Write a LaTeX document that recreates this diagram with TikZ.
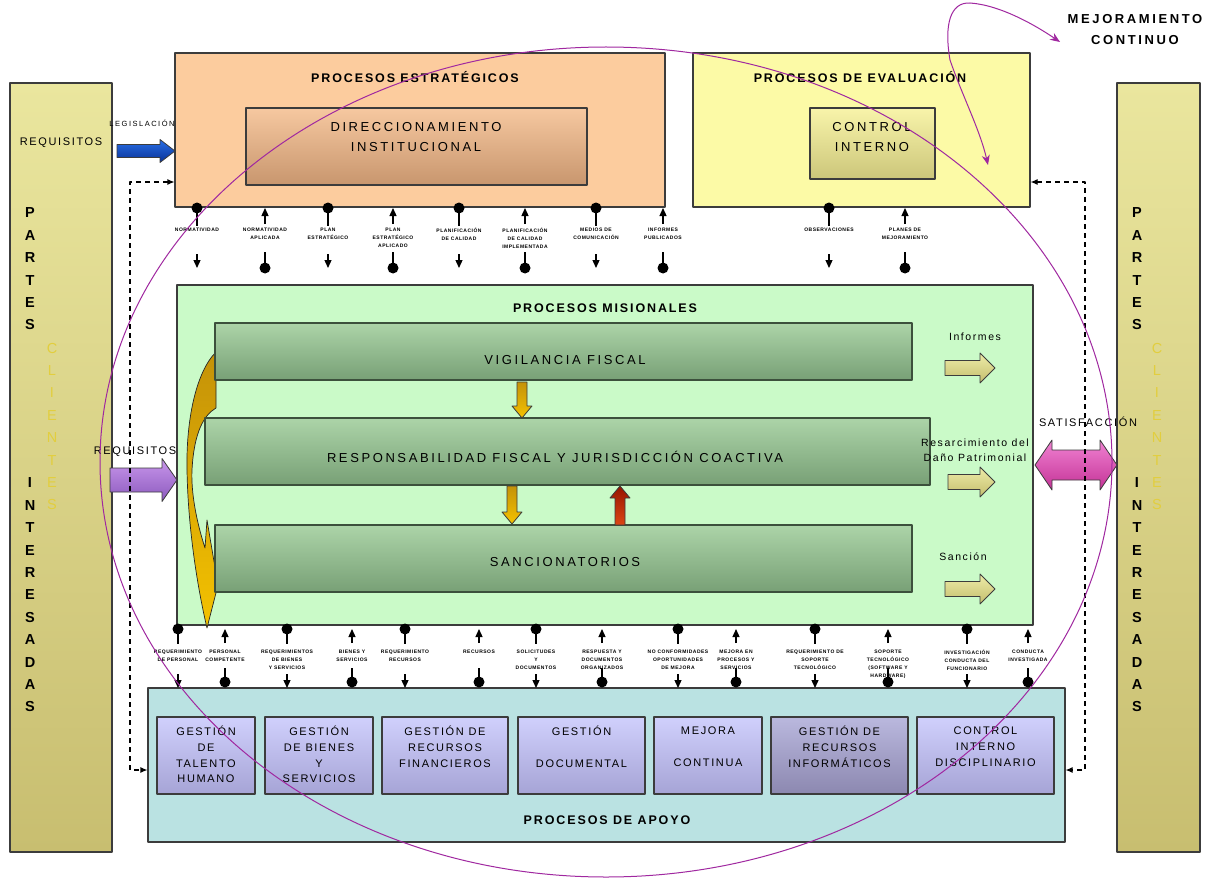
\documentclass[tikz,border=0pt]{standalone}
\usepackage{fontspec}
\setmainfont{Liberation Sans}
\newfontfamily\lsA[LetterSpace=15]{Liberation Sans}
\newfontfamily\lsT[LetterSpace=20]{Liberation Sans}
\newfontfamily\lsS[LetterSpace=10]{Liberation Sans}
\usetikzlibrary{arrows.meta,calc}
\definecolor{bord}{RGB}{60,60,60}
\definecolor{estrc}{RGB}{252,204,158}
\definecolor{evalc}{RGB}{252,250,166}
\definecolor{misc}{RGB}{202,250,200}
\definecolor{apoc}{RGB}{186,226,226}
\definecolor{sidetop}{RGB}{234,230,158}
\definecolor{sidebot}{RGB}{200,190,112}
\definecolor{dirtop}{RGB}{246,200,160}
\definecolor{dirbot}{RGB}{200,150,110}
\definecolor{cintop}{RGB}{248,244,170}
\definecolor{cinbot}{RGB}{204,198,122}
\definecolor{bartop}{RGB}{172,212,168}
\definecolor{barbot}{RGB}{120,160,118}
\definecolor{barbord}{RGB}{60,80,60}
\definecolor{subtop}{RGB}{208,208,252}
\definecolor{subbot}{RGB}{166,164,214}
\definecolor{subsixtop}{RGB}{186,184,222}
\definecolor{subsixbot}{RGB}{140,136,176}
\definecolor{ellc}{RGB}{160,40,160}
\definecolor{cli}{RGB}{226,206,62}
\definecolor{goldtop}{RGB}{196,146,8}
\definecolor{goldbot}{RGB}{244,194,0}
\definecolor{redtop}{RGB}{150,20,0}
\definecolor{redbot}{RGB}{220,70,20}
\definecolor{olvtop}{RGB}{238,236,168}
\definecolor{olvbot}{RGB}{196,190,110}
\definecolor{bluetop}{RGB}{40,110,230}
\definecolor{bluebot}{RGB}{10,50,150}
\definecolor{purtop}{RGB}{200,150,235}
\definecolor{purbot}{RGB}{140,90,190}
\definecolor{pinktop}{RGB}{240,130,210}
\definecolor{pinkbot}{RGB}{196,50,150}
% horizontal block arrow: style, x tail, x tip, y centre, shaft half, head half, signed head length
\newcommand{\blkH}[7]{\path[#1] (#2,{#4-#5}) -- ({#3-#7},{#4-#5}) -- ({#3-#7},{#4-#6}) -- (#3,#4) -- ({#3-#7},{#4+#6}) -- ({#3-#7},{#4+#5}) -- (#2,{#4+#5}) -- cycle;}
% vertical block arrow: style, x centre, y tail, y tip, shaft half, head half, signed head length
\newcommand{\blkV}[7]{\path[#1] ({#2-#5},#3) -- ({#2-#5},{#4-#7}) -- ({#2-#6},{#4-#7}) -- (#2,#4) -- ({#2+#6},{#4-#7}) -- ({#2+#5},{#4-#7}) -- ({#2+#5},#3) -- cycle;}
\begin{document}
\begin{tikzpicture}[x=1pt,y=-1pt,line join=round,
  box/.style={draw=bord,line width=1.1pt,inner sep=0pt},
  hdr/.style={font=\lsA\fontsize{12.5}{15}\selectfont\bfseries,inner sep=0pt},
  boxtxt/.style={font=\lsT\fontsize{13}{20}\selectfont,align=center,inner sep=0pt},
  bartxt/.style={font=\lsT\fontsize{13}{16}\selectfont,inner sep=0pt},
  subtxt/.style={font=\lsA\fontsize{11}{15.7}\selectfont,align=center,inner sep=0pt,anchor=north},
  lbl/.style={font=\lsA\fontsize{10.5}{15}\selectfont,align=center,inner sep=0pt},
  tinytop/.style={font=\lsS\fontsize{5}{8}\selectfont\bfseries,align=center,inner sep=0pt,anchor=north},
  vlet/.style={font=\fontsize{14.5}{22.4}\selectfont\bfseries,align=center,inner sep=0pt},
  vcli/.style={font=\fontsize{14.5}{22.4}\selectfont,align=center,inner sep=0pt,text=cli},
  conn/.style={line width=1.3pt,draw=black},
  tipc/.style={-{Triangle[length=8pt,width=7pt]}},
  ell/.style={draw=ellc,line width=1pt},
  dashc/.style={line width=1.1pt,dash pattern=on 5pt off 4pt,{Latex[length=7pt,width=6pt]}-{Latex[length=7pt,width=6pt]}},
  blk/.style={draw=bord,line width=0.8pt}
]
\useasboundingbox (0,0) rectangle (1216,880);
\fill[white] (0,0) rectangle (1216,880);

% ---------- side boxes ----------
\node[box,top color=sidetop,bottom color=sidebot,minimum width=102,minimum height=769] (pl) at (61,467.5) {};
\node[box,top color=sidetop,bottom color=sidebot,minimum width=83,minimum height=769] (pr) at (1158.5,467.5) {};
\node[vlet] (plA) at (30,269) {P\\A\\R\\T\\E\\S};
\node[vcli] (plB) at (52,426.5) {C\\L\\I\\E\\N\\T\\E\\S};
\node[vlet] (plC) at (30,595) {I\\N\\T\\E\\R\\E\\S\\A\\D\\A\\S};
\node[vlet] (prA) at (1137,269) {P\\A\\R\\T\\E\\S};
\node[vcli] (prB) at (1157,426.5) {C\\L\\I\\E\\N\\T\\E\\S};
\node[vlet] (prC) at (1137,595) {I\\N\\T\\E\\R\\E\\S\\A\\D\\A\\S};
\node[lbl,font=\lsA\fontsize{11}{13}\selectfont] (req1) at (61,143) {REQUISITOS};

% ---------- strategic ----------
\node[box,fill=estrc,minimum width=490,minimum height=154] (estr) at (420,130) {};
\node[hdr] (estrT) at (415,77) {PROCESOS ESTRATÉGICOS};
\node[box,top color=dirtop,bottom color=dirbot,minimum width=341,minimum height=77] (dir) at (416.5,146.5) {};
\node[boxtxt] (dirT) at (416,137) {DIRECCIONAMIENTO\\INSTITUCIONAL};

% ---------- evaluation ----------
\node[box,fill=evalc,minimum width=337,minimum height=154] (eval) at (861.5,130) {};
\node[hdr] (evalT) at (860,77) {PROCESOS DE EVALUACIÓN};
\node[box,top color=cintop,bottom color=cinbot,minimum width=125,minimum height=71] (cin) at (872.5,143.5) {};
\node[boxtxt] (cinT) at (872,137) {CONTROL\\INTERNO};

% ---------- missional ----------
\node[box,fill=misc,minimum width=856,minimum height=340] (mis) at (605,455) {};
\node[hdr] (misT) at (605,308) {PROCESOS MISIONALES};
% curved golden arrow
\path[draw=black!85,line width=0.7pt,top color=goldtop,bottom color=goldbot]
  (216,352) .. controls (196,372) and (186,420) .. (187,470)
  .. controls (188,530) and (198,590) .. (207,628)
  -- (218,585) -- (207,520) -- (205,548)
  .. controls (196,520) and (191,492) .. (192,470)
  .. controls (194,432) and (204,415) .. (216,408) -- cycle;
\node[draw=barbord,line width=1.1pt,top color=bartop,bottom color=barbot,minimum width=697,minimum height=57,inner sep=0pt] (bar1) at (563.5,351.5) {};
\node[draw=barbord,line width=1.1pt,top color=bartop,bottom color=barbot,minimum width=725,minimum height=67,inner sep=0pt] (bar2) at (567.5,451.5) {};
\node[draw=barbord,line width=1.1pt,top color=bartop,bottom color=barbot,minimum width=697,minimum height=67,inner sep=0pt] (bar3) at (563.5,558.5) {};
\node[bartxt] (bar1T) at (565,360) {VIGILANCIA FISCAL};
\node[bartxt] (bar2T) at (555,457) {RESPONSABILIDAD FISCAL Y JURISDICCIÓN COACTIVA};
\node[bartxt] (bar3T) at (565,562) {SANCIONATORIOS};
% arrows between bars
\blkV{blk,top color=goldtop,bottom color=goldbot}{522}{382}{418}{5}{10}{12}
\blkV{blk,top color=goldtop,bottom color=goldbot}{512}{486}{524}{5}{10}{12}
\blkV{blk,top color=redtop,bottom color=redbot}{620}{525}{486}{5}{10}{-12}
% outputs
\node[lbl] (infT) at (975,337) {Informes};
\node[lbl] (resT) at (975,450) {Resarcimiento del\\Daño Patrimonial};
\node[lbl] (sanT) at (963,557) {Sanción};
\blkH{blk,top color=olvtop,bottom color=olvbot}{945}{995}{368}{7.5}{15}{15}
\blkH{blk,top color=olvtop,bottom color=olvbot}{948}{995}{482}{7.5}{15}{15}
\blkH{blk,top color=olvtop,bottom color=olvbot}{945}{995}{589}{7.5}{15}{15}

% ---------- apoyo ----------
\node[box,fill=apoc,minimum width=917,minimum height=154] (apo) at (606.5,765) {};
\node[hdr] (apoT) at (607,820) {PROCESOS DE APOYO};
\foreach \n/\cx/\w in {1/206/98,2/319/108,3/445/126,4/581.5/127,5/708/108,7/985.5/137}{
  \node[box,top color=subtop,bottom color=subbot,minimum width=\w,minimum height=77] (sub\n) at (\cx,755.5) {};
}
\node[box,top color=subsixtop,bottom color=subsixbot,minimum width=137,minimum height=77] (sub6) at (839.5,755.5) {};
\node[subtxt] (sub1T) at (206,726) {GESTIÓN\\DE\\TALENTO\\HUMANO};
\node[subtxt] (sub2T) at (319,726) {GESTIÓN\\DE BIENES\\Y\\SERVICIOS};
\node[subtxt] (sub3T) at (445,726) {GESTIÓN DE\\RECURSOS\\FINANCIEROS};
\node[subtxt] (sub4T) at (581.5,726) {GESTIÓN\\[15.7pt]DOCUMENTAL};
\node[subtxt] (sub5T) at (708,727) {MEJORA\\[15.7pt]CONTINUA};
\node[subtxt] (sub6T) at (839.5,726) {GESTIÓN DE\\RECURSOS\\INFORMÁTICOS};
\node[subtxt] (sub7T) at (985.5,727) {CONTROL\\INTERNO\\DISCIPLINARIO};

% ---------- inputs / requirements ----------
\node[lbl,font=\lsT\fontsize{7.5}{9}\selectfont] (legT) at (142,123) {LEGISLACIÓN};
\blkH{blk,top color=bluetop,bottom color=bluebot}{117}{175}{151}{6.5}{11.5}{15}
\node[lbl,font=\lsA\fontsize{11}{13}\selectfont] (req2) at (135,452) {REQUISITOS};
\blkH{blk,top color=purtop,bottom color=purbot}{110}{177}{480}{12}{21.5}{15}
\node[lbl,font=\lsA\fontsize{11}{13}\selectfont] (satT) at (1088,422) {SATISFACCIÓN};
\path[blk,top color=pinktop,bottom color=pinkbot] (1035,465) -- (1052,440) -- (1052,450) -- (1100,450) -- (1100,440) -- (1117,465) -- (1100,490) -- (1100,480) -- (1052,480) -- (1052,490) -- cycle;

% ---------- dashed feedback connectors ----------
\coordinate (dl1) at (estr.west |- 0,182);
\coordinate (dl2) at (130,182);
\coordinate (dl3) at (130,770);
\coordinate (dl4) at (apo.west |- 0,770);
\draw[dashc] (dl1) -- (dl2) -- (dl3) -- (dl4);
\coordinate (dr1) at (eval.east |- 0,182);
\coordinate (dr2) at (1085,182);
\coordinate (dr3) at (1085,770);
\coordinate (dr4) at (apo.east |- 0,770);
\draw[dashc] (dr1) -- (dr2) -- (dr3) -- (dr4);

% ---------- top connectors ----------
\foreach \x/\t in {197/{NORMATIVIDAD},328/{PLAN\\ESTRATÉGICO},459/{PLANIFICACIÓN\\DE CALIDAD},596/{MEDIOS DE\\COMUNICACIÓN},829/{OBSERVACIONES}}{
  \node[tinytop] (tl\x) at (\x,228) {\t};
  \coordinate (ta\x) at (\x,208);
  \coordinate (tb\x) at (\x,226);
  \coordinate (tc\x) at (\x,254);
  \coordinate (td\x) at (\x,268);
  \fill (ta\x) circle (5.5pt);
  \draw[conn] (ta\x) -- (tb\x);
  \draw[conn,tipc] (tc\x) -- (td\x);
}
\foreach \x/\t in {265/{NORMATIVIDAD\\APLICADA},393/{PLAN\\ESTRATÉGICO\\APLICADO},525/{PLANIFICACIÓN\\DE CALIDAD\\IMPLEMENTADA},663/{INFORMES\\PUBLICADOS},905/{PLANES DE\\MEJORAMIENTO}}{
  \node[tinytop] (tl\x) at (\x,228) {\t};
  \coordinate (ta\x) at (\x,208);
  \coordinate (tb\x) at (\x,224);
  \coordinate (tc\x) at (\x,252);
  \coordinate (td\x) at (\x,268);
  \draw[conn,tipc] (tb\x) -- (ta\x);
  \draw[conn] (tc\x) -- (td\x);
  \fill (td\x) circle (5.5pt);
}
% ---------- bottom connectors ----------
\foreach \x/\t in {178/{REQUERIMIENTO\\DE PERSONAL},287/{REQUERIMIENTOS\\DE BIENES\\Y SERVICIOS},405/{REQUERIMIENTO\\RECURSOS},536/{SOLICITUDES\\Y\\DOCUMENTOS},678/{NO CONFORMIDADES\\OPORTUNIDADES\\DE MEJORA},815/{REQUERIMIENTO DE\\SOPORTE\\TECNOLÓGICO},967/{INVESTIGACIÓN\\CONDUCTA DEL\\FUNCIONARIO}}{
  \node[tinytop] (bl\x) at (\x,650) {\t};
  \coordinate (ba\x) at (\x,629);
  \coordinate (bb\x) at (\x,644);
  \coordinate (bc\x) at (\x,674);
  \coordinate (bd\x) at (\x,688);
  \fill (ba\x) circle (5.5pt);
  \draw[conn] (ba\x) -- (bb\x);
  \draw[conn,tipc] (bc\x) -- (bd\x);
}
\foreach \x/\t in {225/{PERSONAL\\COMPETENTE},352/{BIENES Y\\SERVICIOS},479/{RECURSOS},602/{RESPUESTA Y\\DOCUMENTOS\\ORGANIZADOS},736/{MEJORA EN\\PROCESOS Y\\SERVICIOS},888/{SOPORTE\\TECNOLÓGICO\\(SOFTWARE Y\\HARDWARE)},1028/{CONDUCTA\\INVESTIGADA}}{
  \node[tinytop] (bl\x) at (\x,650) {\t};
  \coordinate (ba\x) at (\x,629);
  \coordinate (bb\x) at (\x,643);
  \coordinate (bc\x) at (\x,668);
  \coordinate (bd\x) at (\x,682);
  \draw[conn,tipc] (bb\x) -- (ba\x);
  \draw[conn] (bc\x) -- (bd\x);
  \fill (bd\x) circle (5.5pt);
}

% ---------- continuous improvement ellipse ----------
\draw[ell] (606,462) ellipse [x radius=506pt,y radius=415pt];
\coordinate (lp0) at (950,60);
\coordinate (lp1) at (1060,42);
\coordinate (lp2) at (988,165);
\draw[ell,-{Stealth[length=10pt,width=8pt]}] (lp0) .. controls (944,25) and (950,2) .. (970,3) .. controls (1000,5) and (1035,25) .. (lp1);
\draw[ell,-{Stealth[length=10pt,width=8pt]}] (lp0) .. controls (962,95) and (980,130) .. (lp2);
\node[font=\lsT\fontsize{13}{21}\selectfont\bfseries,align=center,inner sep=0pt] (mejT) at (1135,30) {MEJORAMIENTO\\CONTINUO};
\end{tikzpicture}
\end{document}
